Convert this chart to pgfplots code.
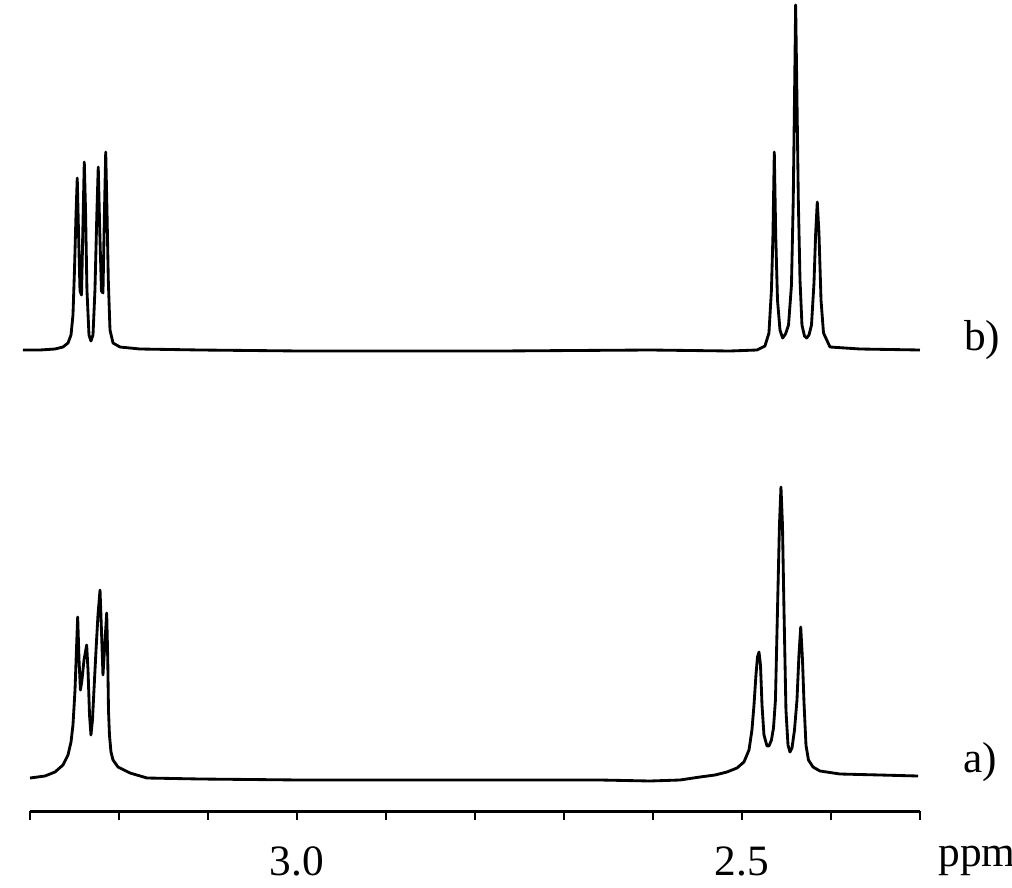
\documentclass[border=0pt]{standalone}
\usepackage{fontspec}
\setmainfont{Liberation Serif}
\usepackage{pgfplots}
\pgfplotsset{compat=1.18}

% spectrum a) (lower trace), intensity in arbitrary units
\pgfplotstableread{
ppm int
3.3000 33
3.2831 35
3.2719 39
3.2629 46
3.2573 56
3.2539 69
3.2517 86
3.2494 121
3.2478 161
3.2464 194
3.2449 151
3.2433 121
3.2416 131
3.2393 151
3.2363 166
3.2348 141
3.2331 96
3.2315 76
3.2298 91
3.2281 121
3.2258 161
3.2236 196
3.2213 221
3.2197 181
3.2180 136
3.2163 161
3.2138 198
3.2126 151
3.2118 101
3.2107 76
3.2090 59
3.2067 51
3.2011 44
3.1876 38
3.1685 33
3.1090 32
2.9966 31
2.8843 31
2.7719 31
2.6596 31
2.6034 30
2.5697 31
2.5472 34
2.5303 36
2.5169 39
2.5056 43
2.4978 49
2.4921 61
2.4888 81
2.4865 106
2.4843 136
2.4826 154
2.4809 159
2.4792 146
2.4775 106
2.4753 76
2.4719 65
2.4697 65
2.4669 71
2.4646 83
2.4624 111
2.4601 201
2.4579 286
2.4562 324
2.4545 286
2.4528 201
2.4506 101
2.4483 66
2.4461 59
2.4438 63
2.4410 81
2.4382 111
2.4360 156
2.4340 184
2.4320 151
2.4303 108
2.4281 66
2.4253 51
2.4202 44
2.4124 40
2.3899 37
2.3449 36
2.3022 35
}\specA

% spectrum b) (upper trace)
\pgfplotstableread{
ppm int
3.3079 461
3.2888 461
3.2719 462
3.2629 464
3.2573 468
3.2539 476
3.2517 496
3.2500 541
3.2483 596
3.2469 633
3.2455 580
3.2438 520
3.2421 516
3.2404 590
3.2390 649
3.2376 601
3.2360 521
3.2337 476
3.2315 470
3.2292 476
3.2270 521
3.2249 596
3.2233 644
3.2216 580
3.2197 520
3.2180 518
3.2163 600
3.2149 659
3.2135 601
3.2120 531
3.2101 481
3.2067 468
3.1989 464
3.1764 462
3.1090 461
2.9966 460
2.7719 460
2.6034 461
2.5135 460
2.4831 461
2.4742 465
2.4697 478
2.4669 521
2.4652 576
2.4637 659
2.4621 576
2.4601 511
2.4573 481
2.4543 473
2.4511 477
2.4477 486
2.4444 526
2.4424 611
2.4410 711
2.4397 806
2.4382 711
2.4367 611
2.4348 531
2.4326 486
2.4298 475
2.4273 473
2.4247 476
2.4219 486
2.4191 528
2.4172 578
2.4154 609
2.4135 578
2.4112 511
2.4084 478
2.4011 464
2.3674 462
2.3000 461
}\specB

\begin{document}
\begin{tikzpicture}
\useasboundingbox (-9pt,-22.8pt) rectangle (294.6pt,243.3pt);
\begin{axis}[
  scale only axis, width=267pt, height=243.3pt,
  xmin=2.3, xmax=3.3, ymin=0, ymax=811, x dir=reverse,
  axis x line*=bottom, axis y line=none,
  clip=false,
  xtick={2.3,2.4,2.5,2.6,2.7,2.8,2.9,3.0,3.1,3.2,3.3},
  xticklabels={,,2.5,,,,,3.0,,,},
  tick align=outside, tick pos=left,
  major tick length=2.7pt,
  every tick/.style={black, line width=0.7pt},
  axis line style={line width=0.9pt},
  xticklabel style={font=\fontsize{13}{15}\selectfont, anchor=base, yshift=-16.7pt},
  /pgf/number format/assume math mode=true,
]
\addplot[black, line width=0.85pt, line join=round] table[x=ppm, y=int] {\specA};
\addplot[black, line width=0.85pt, line join=round] table[x=ppm, y=int] {\specB};
\node[anchor=base west, inner sep=0pt, font=\fontsize{13}{15}\selectfont] at (axis cs:2.252,39) {a)};
\node[anchor=base west, inner sep=0pt, font=\fontsize{13}{15}\selectfont] at (axis cs:2.251,461) {b)};
\node[anchor=base, inner sep=0pt, font=\fontsize{13}{15}\selectfont] at (axis cs:2.236,-55.7) {ppm};
\end{axis}
\end{tikzpicture}
\end{document}
